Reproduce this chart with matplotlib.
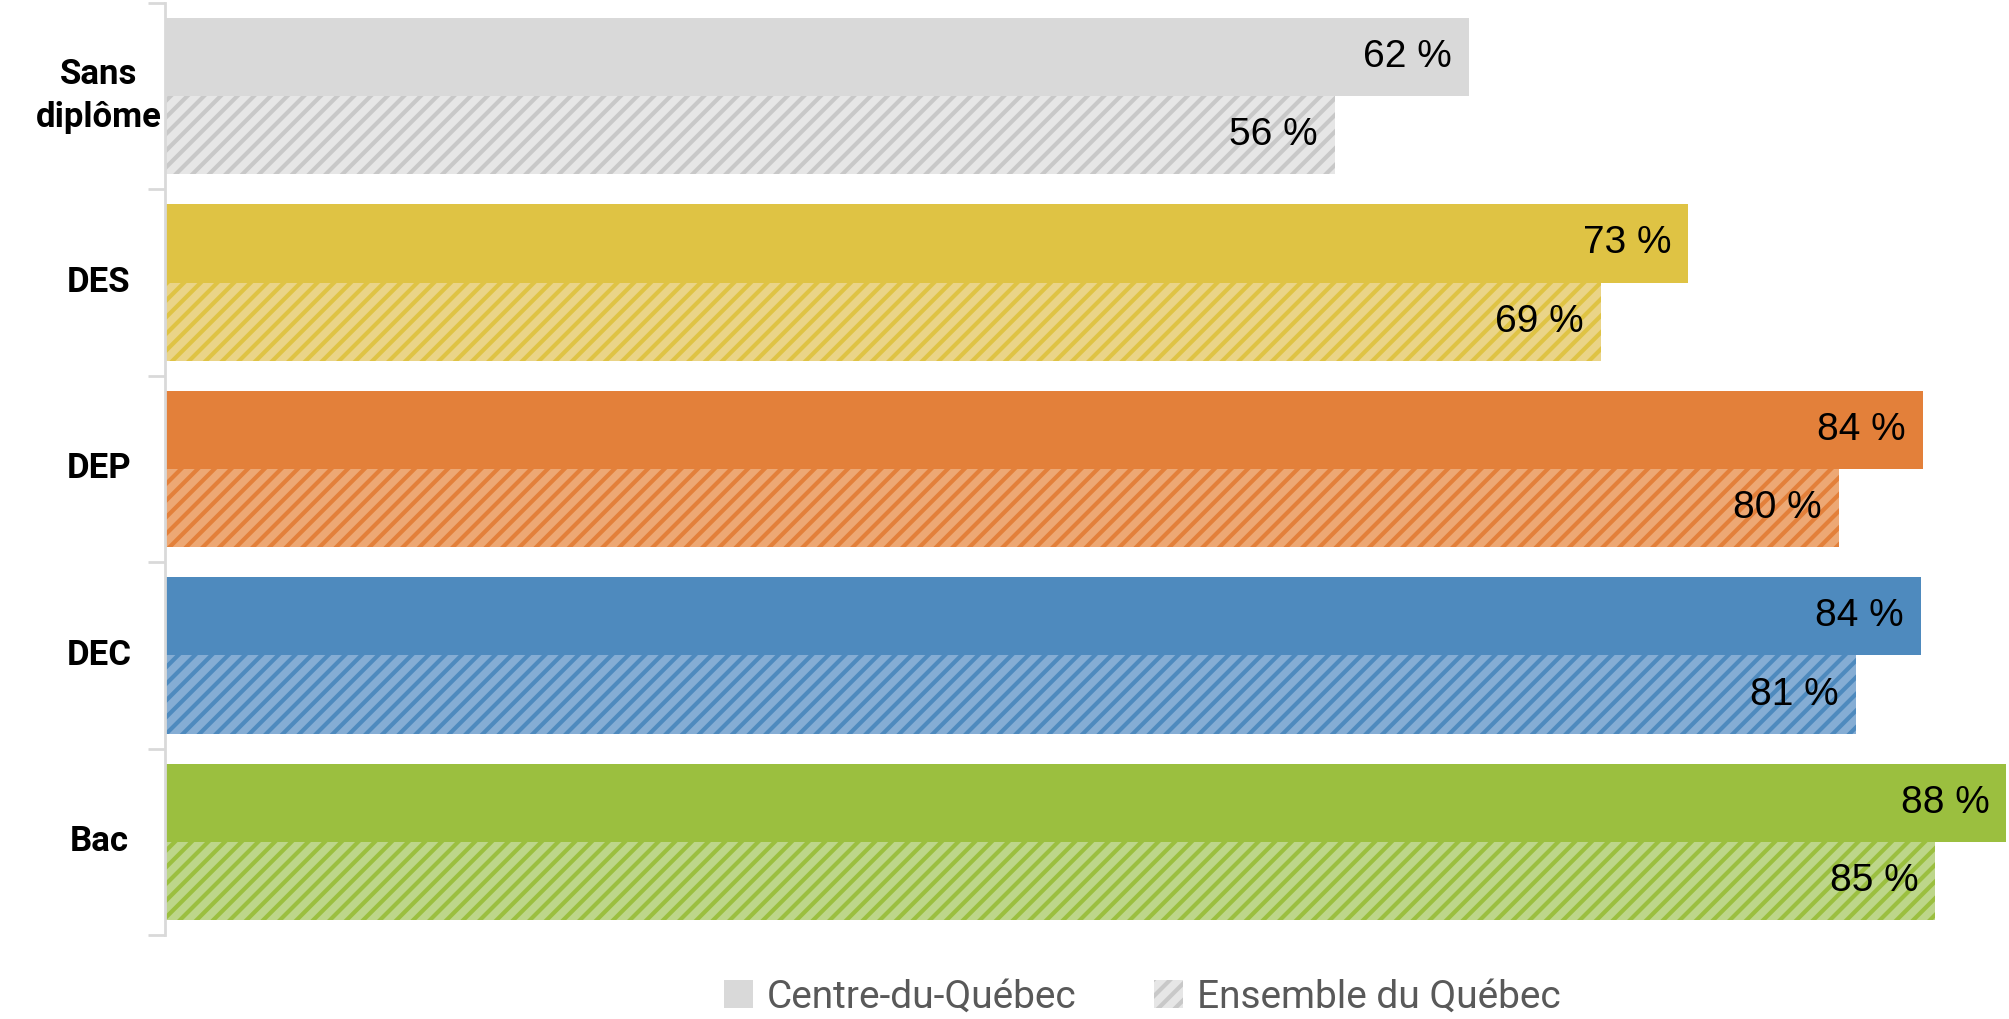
import matplotlib.pyplot as plt
import matplotlib.transforms as mtransforms
from matplotlib.patches import Patch
import numpy as np

plt.rcParams['hatch.linewidth'] = 3.0

categories = ['Sans\ndiplôme', 'DES', 'DEP', 'DEC', 'Bac']
centre_du_quebec = [62.3, 72.8, 84.0, 83.9, 88.0]
ensemble_quebec = [55.9, 68.6, 80.0, 80.8, 84.6]
series_names = ['Centre-du-Québec', 'Ensemble du Québec']

main_colors = ['#D9D9D9', '#DFC344', '#E3803A', '#4E8ABE', '#9BBF3F']
light_colors = ['#E6E6E6', '#EAD488', '#EDA874', '#85ADD4', '#BDD68A']
hatch_colors = ['#C8C8C8', '#DFC344', '#E3803A', '#4E8ABE', '#9BBF3F']

fig = plt.figure(figsize=(20.09, 10.19), dpi=100)
ax = fig.add_axes([165 / 2009, 84 / 1019, 1 - 165 / 2009, (1016 - 84) / 1019])

y = np.arange(len(categories))
h = 0.42
ax.barh(y - h / 2, centre_du_quebec, height=h, color=main_colors, linewidth=0)
hb = ax.barh(y + h / 2, ensemble_quebec, height=h, color=light_colors, linewidth=0, hatch='//')
for b, c in zip(hb, hatch_colors):
    b.set_edgecolor(c)
    b.set_linewidth(0)

offset = mtransforms.offset_copy(ax.transData, fig=fig, x=-17, y=0, units='dots')
for i in range(len(categories)):
    ax.text(centre_du_quebec[i], y[i] - h / 2, f'{centre_du_quebec[i]:.0f} %', ha='right', va='center',
            fontsize=28, family='Liberation Sans', transform=offset)
    ax.text(ensemble_quebec[i], y[i] + h / 2, f'{ensemble_quebec[i]:.0f} %', ha='right', va='center',
            fontsize=28, family='Liberation Sans', transform=offset)

ax.set_xlim(0, 88.12)
ax.set_ylim(4.5, -0.5)
ax.set_xticks([])
ax.set_yticks([])
ax.set_yticks(np.arange(-0.5, 5, 1), minor=True)
ax.tick_params(axis='y', which='minor', length=12, width=2, color='#D9D9D9', labelleft=False)
for s in ['top', 'right', 'bottom']:
    ax.spines[s].set_visible(False)
ax.spines['left'].set_color('#D9D9D9')
ax.spines['left'].set_linewidth(2)

lbl_tr = mtransforms.blended_transform_factory(ax.transAxes, ax.transData)
for i, c in enumerate(categories):
    ax.text((99 - 165) / (2009 - 165), y[i], c, ha='center', va='center', fontsize=25,
            fontweight='bold', family=['Roboto', 'DejaVu Sans'],
            linespacing=1.4, transform=lbl_tr)

handles = [Patch(facecolor='#D9D9D9', linewidth=0),
           Patch(facecolor='#E6E6E6', edgecolor='#C8C8C8', hatch='//', linewidth=0)]
fig.legend(handles, series_names, loc='center', bbox_to_anchor=(1142 / 2009, 1 - 997 / 1019),
           ncol=2, frameon=False, handlelength=0.75, handleheight=0.75, handletextpad=0.35,
           columnspacing=2.0, prop={'family': ['Roboto', 'DejaVu Sans'], 'size': 28},
           labelcolor='#595959')

fig.savefig('out.png', dpi=100)
